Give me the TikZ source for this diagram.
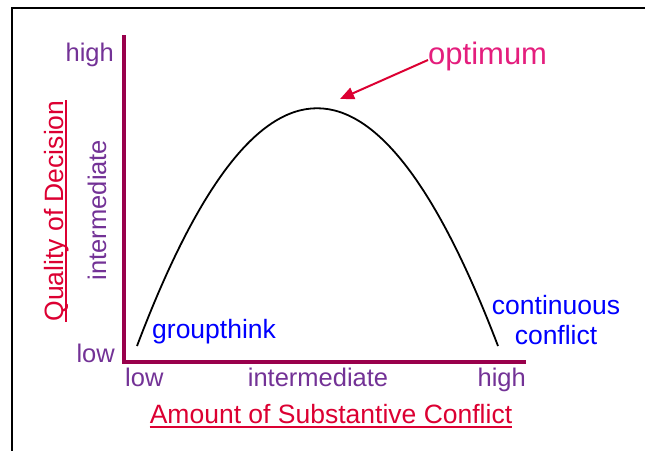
\documentclass[tikz,border=0pt]{standalone}
\usepackage{fontspec}
\setmainfont{Liberation Sans}
\usepackage{xcolor}
\usepackage{tikz}
\usetikzlibrary{arrows.meta, positioning}
\definecolor{axiscol}{RGB}{153,0,76}
\definecolor{levelcol}{RGB}{115,50,150}
\definecolor{titlecol}{RGB}{220,0,50}
\definecolor{optcol}{RGB}{228,30,125}
\definecolor{notecol}{RGB}{0,0,255}
\tikzset{
    levellabel/.style={text=levelcol, font=\fontsize{25.5}{28}\selectfont, inner sep=0pt},
    axistitle/.style={text=titlecol, font=\fontsize{26.5}{30}\selectfont, inner sep=0pt},
    notelabel/.style={text=notecol, font=\fontsize{26.5}{30}\selectfont, inner sep=0pt, align=center},
    optlabel/.style={text=optcol, font=\fontsize{31}{34}\selectfont, inner sep=0pt},
    axisline/.style={line width=4pt, color=axiscol, line join=miter},
    curveline/.style={line width=1.8pt, color=black},
    pointer/.style={line width=2pt, color=titlecol, -{Triangle[length=14pt,width=12pt]}},
    titleline/.style={line width=1.5pt, color=titlecol},
    frameline/.style={line width=2pt, color=black}
}

\begin{document}
\begin{tikzpicture}[x=1pt, y=-1pt]
    \useasboundingbox (0,0) rectangle (645,450);
    \draw [frameline] (12,455) -- (12,8) -- (650,8);

    % axes
    \coordinate (origin) at (124,362);
    \coordinate (ytop) at (124,35);
    \coordinate (xend) at (526,362);
    \draw [axisline] (ytop) -- (origin) -- (xend);

    % level labels
    \node (yhigh) [levellabel, anchor=base east] at (114,61) {high};
    \node (ylow) [levellabel, anchor=base east] at (115,362) {low};
    \node (ymid) [levellabel, rotate=90, anchor=base] at (106,210) {intermediate};
    \node (xlow) [levellabel, anchor=base west] at (125,386) {low};
    \node (xmid) [levellabel, anchor=base] at (318,386) {intermediate};
    \node (xhigh) [levellabel, anchor=base east] at (526,386) {high};

    % axis titles
    \node (xtitle) [axistitle, anchor=base] at (331,423) {Amount of Substantive Conflict};
    \draw [titleline] ([yshift=-4pt]xtitle.base west) -- ([yshift=-4pt]xtitle.base east);
    \node (ytitle) [axistitle, rotate=90, anchor=base] at (63,211) {Quality of Decision};
    \draw [titleline] ([xshift=3pt]ytitle.base west) -- ([xshift=3pt]ytitle.base east);

    % curve
    \coordinate (gstart) at (137,346);
    \coordinate (cend) at (498,346);
    \draw [curveline] (gstart) .. controls (257,29) and (377,29) .. (cend);

    % notes
    \node (groupthink) [notelabel, anchor=base west] at (152,338) {groupthink};
    \node (contconf) [notelabel, anchor=center] at (556,320) {continuous\\ conflict};
    \node (optimum) [optlabel, anchor=base west] at (428,64) {optimum};
    \coordinate (peaktip) at (340,99);
    \draw [pointer] ([yshift=-4pt]optimum.west) -- (peaktip);
\end{tikzpicture}
\end{document}
